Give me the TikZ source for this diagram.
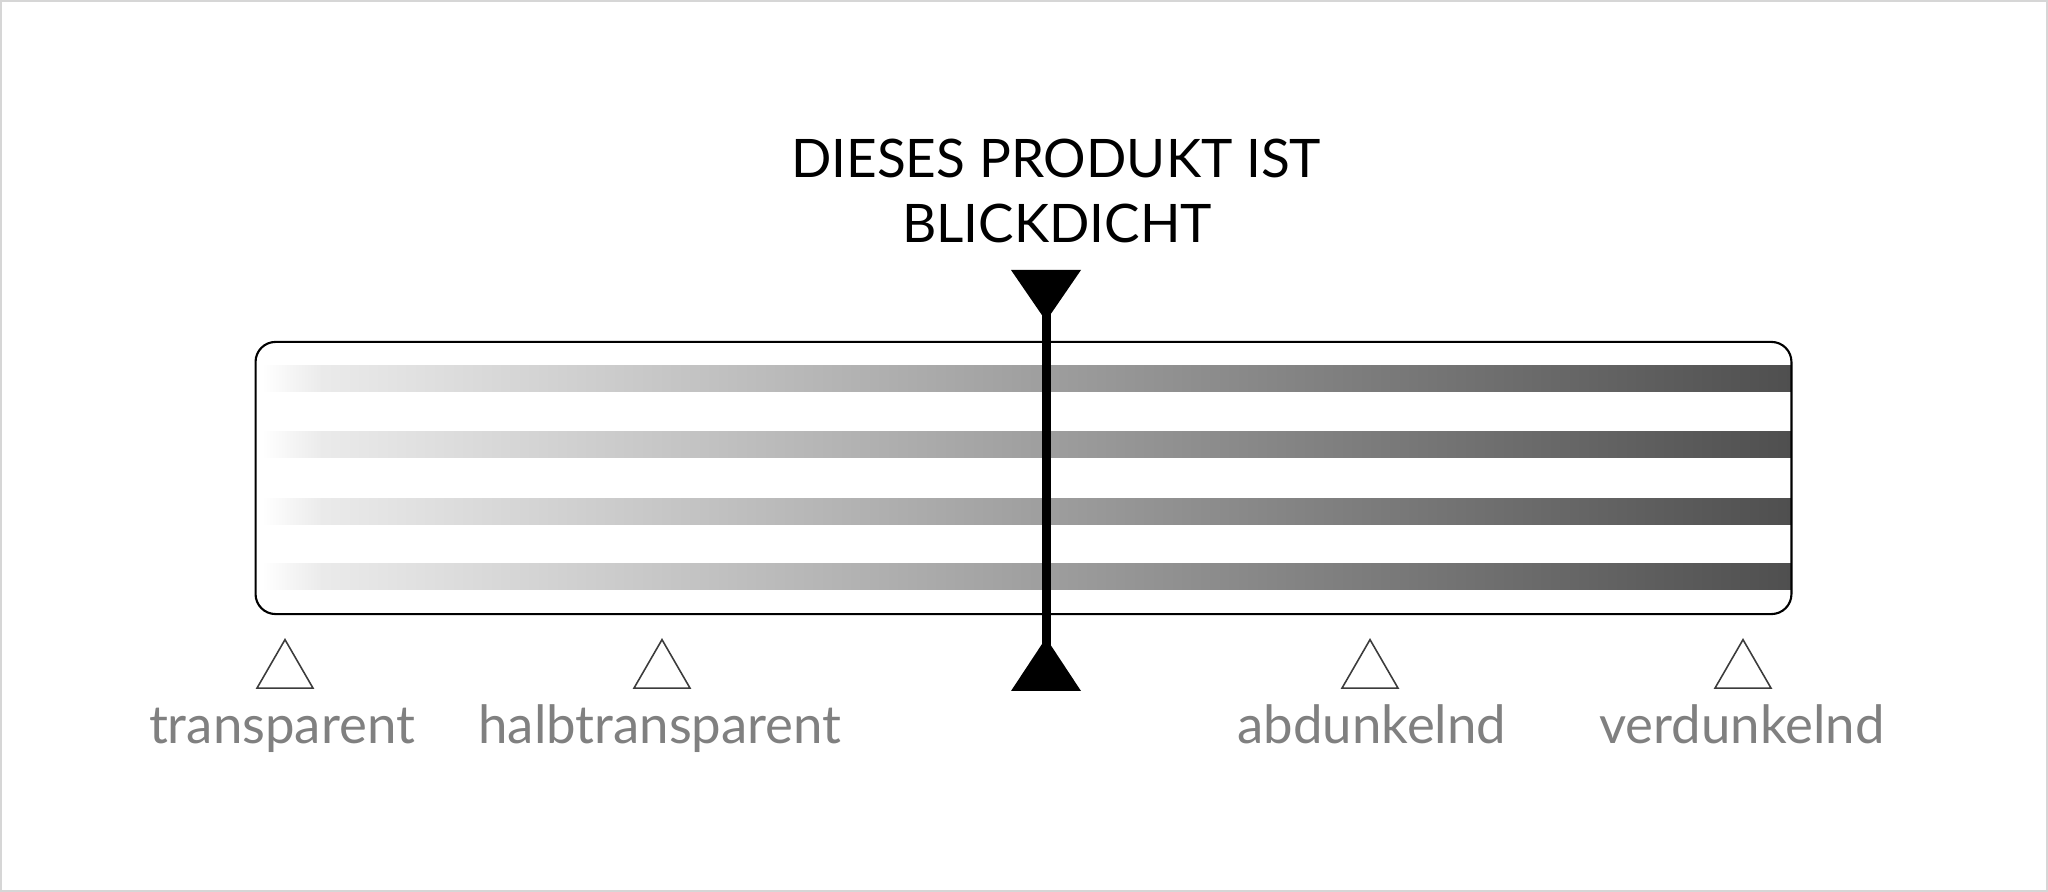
\documentclass[tikz,border=0pt]{standalone}
\usepackage{fontspec}
\setmainfont{Lato}
\usetikzlibrary{shapes.geometric}

\definecolor{labelgray}{HTML}{808080}
\definecolor{tickgray}{HTML}{3C3C3C}
\definecolor{framegray}{HTML}{D6D6D6}

\begin{document}
\begin{tikzpicture}[x=0.01cm,y=-0.01cm,
    title node/.style={font=\fontsize{15.1}{18}\selectfont,anchor=base,inner sep=0},
    scale node/.style={font=\fontsize{15}{18}\selectfont,text=labelgray,anchor=base,inner sep=0},
    tick node/.style={regular polygon,regular polygon sides=3,draw=tickgray,line width=0.45pt,
                      minimum size=0.647cm,inner sep=0},
    panel/.style={draw,rounded corners=0.2cm,line width=0.6pt,minimum width=15.35cm,minimum height=2.72cm}]

    \useasboundingbox (0,0) rectangle (2048,892);
    \draw[framegray,line width=0.6pt] (1,1) rectangle (2047,891);

    % Title
    \node[title node] (title1) at (1056,178) {DIESES PRODUKT IST};
    \node[title node] (title2) at (1057,243) {BLICKDICHT};

    % Stripes
    \foreach \y in {366,432,499,564} {
      \shade[left color=white,right color=black!8] (262,\y) rectangle (322,\y+26);
      \shade[left color=black!8,right color=black!69] (320,\y) rectangle (1791,\y+26);
    }

    % Nodes
    \node[panel] (box) at (1023.5,478) {};
    \node[tick node] (t1) at (285,672) {};
    \node[tick node] (t2) at (662,672) {};
    \node[tick node] (t3) at (1370,672) {};
    \node[tick node] (t4) at (1743,672) {};
    \node[scale node] (l1) at (282,744) {transparent};
    \node[scale node] (l2) at (660,744) {halbtransparent};
    \node[scale node] (l3) at (1372,744) {abdunkelnd};
    \node[scale node] (l4) at (1742,744) {verdunkelnd};

    % Marker
    \coordinate (mtop) at (1046,321);
    \coordinate (mbot) at (1046,638);
    \fill (1011,270) -- (1081,270) -- (mtop) -- cycle;
    \fill (mbot) -- (1081,691) -- (1011,691) -- cycle;
    \draw[line width=2.56pt,shorten <=-14,shorten >=-14] (mtop) -- (mbot);

  \end{tikzpicture}
\end{document}
